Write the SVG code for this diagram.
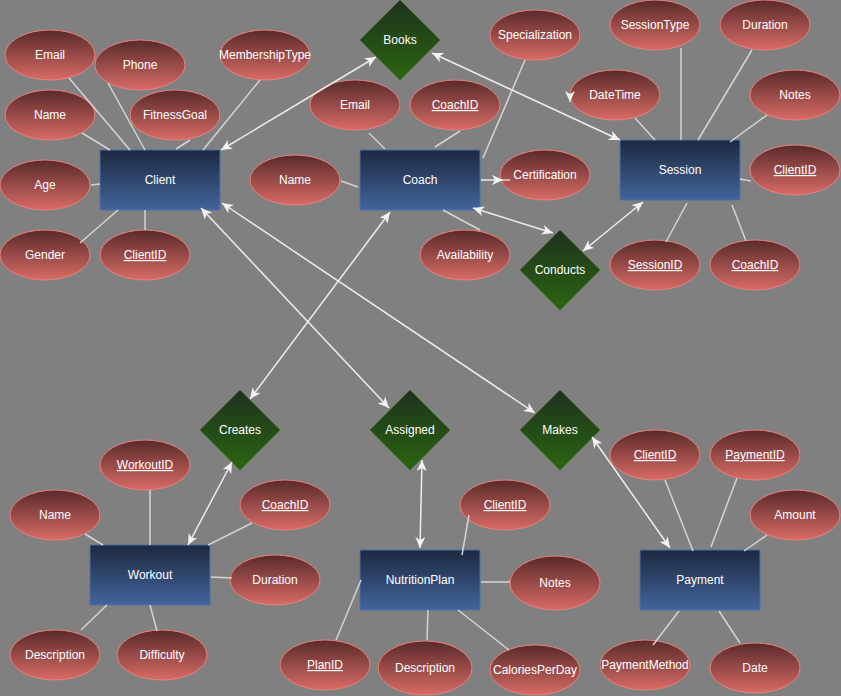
<svg xmlns="http://www.w3.org/2000/svg" width="841" height="696" viewBox="0 0 841 696">
<defs>
<linearGradient id="gA" x1="0" y1="0" x2="0" y2="1"><stop offset="0" stop-color="#592a2a"/><stop offset="1" stop-color="#d86b66"/></linearGradient>
<linearGradient id="gE" x1="0" y1="0" x2="0" y2="1"><stop offset="0" stop-color="#1d2940"/><stop offset="1" stop-color="#42649b"/></linearGradient>
<linearGradient id="gR" x1="0" y1="0" x2="0" y2="1"><stop offset="0" stop-color="#1f311f"/><stop offset="1" stop-color="#2a650f"/></linearGradient>
<marker id="arr" markerUnits="userSpaceOnUse" markerWidth="12" markerHeight="10" refX="11" refY="5" orient="auto-start-reverse" viewBox="0 0 12 10"><path d="M0,0 L11,5 L0,10 L3,5 z" fill="#f2f2f2"/></marker>
<style>
.attr ellipse{fill:url(#gA);stroke:#e8817a;stroke-width:1}
.ent rect{fill:url(#gE);stroke:#4a70aa;stroke-width:1}
.rel polygon{fill:url(#gR);stroke:#3c6a22;stroke-width:1}
text{font-family:"Liberation Sans",Arial,sans-serif;font-size:12px;fill:#ffffff;text-anchor:middle}
.key{text-decoration:underline}
.lnk line,.lnk path{stroke:#d4d4d4;stroke-width:1.5;fill:none}
.lnk .rel{stroke:#ededed;marker-start:url(#arr);marker-end:url(#arr)}
.lnk .one{stroke:#ededed;marker-end:url(#arr)}
</style>
</defs>
<rect width="841" height="696" fill="#808080"/>

<g id="Client" class="ent"><rect x="100" y="150" width="120" height="60"/><text x="160" y="184">Client</text></g>
<g id="Coach" class="ent"><rect x="360" y="150" width="120" height="60"/><text x="420" y="184">Coach</text></g>
<g id="Session" class="ent"><rect x="620" y="140" width="120" height="60"/><text x="680" y="174">Session</text></g>
<g id="Workout" class="ent"><rect x="90" y="545" width="120" height="60"/><text x="150" y="579">Workout</text></g>
<g id="NutritionPlan" class="ent"><rect x="360" y="550" width="120" height="60"/><text x="420" y="584">NutritionPlan</text></g>
<g id="Payment" class="ent"><rect x="640" y="550" width="120" height="60"/><text x="700" y="584">Payment</text></g>

<g id="Books" class="rel"><polygon points="400,0 440,40 400,80 360,40"/><text x="400" y="44">Books</text></g>
<g id="Conducts" class="rel"><polygon points="560,230 600,270 560,310 520,270"/><text x="560" y="274">Conducts</text></g>
<g id="Creates" class="rel"><polygon points="240,390 280,430 240,470 200,430"/><text x="240" y="434">Creates</text></g>
<g id="Assigned" class="rel"><polygon points="410,390 450,430 410,470 370,430"/><text x="410" y="434">Assigned</text></g>
<g id="Makes" class="rel"><polygon points="560,390 600,430 560,470 520,430"/><text x="560" y="434">Makes</text></g>

<g id="Client_Email" class="attr"><ellipse cx="50" cy="55" rx="45" ry="25"/><text x="50" y="59">Email</text></g>
<g id="Client_Phone" class="attr"><ellipse cx="140" cy="65" rx="45" ry="25"/><text x="140" y="69">Phone</text></g>
<g id="Client_MembershipType" class="attr"><ellipse cx="265" cy="55" rx="45" ry="25"/><text x="265" y="59">MembershipType</text></g>
<g id="Client_Name" class="attr"><ellipse cx="50" cy="115" rx="45" ry="25"/><text x="50" y="119">Name</text></g>
<g id="Client_FitnessGoal" class="attr"><ellipse cx="175" cy="115" rx="45" ry="25"/><text x="175" y="119">FitnessGoal</text></g>
<g id="Client_Age" class="attr"><ellipse cx="45" cy="185" rx="45" ry="25"/><text x="45" y="189">Age</text></g>
<g id="Client_Gender" class="attr"><ellipse cx="45" cy="255" rx="45" ry="25"/><text x="45" y="259">Gender</text></g>
<g id="Client_ClientID" class="attr"><ellipse cx="145" cy="255" rx="45" ry="25"/><text class="key" x="145" y="259">ClientID</text></g>

<g id="Coach_Email" class="attr"><ellipse cx="355" cy="105" rx="45" ry="25"/><text x="355" y="109">Email</text></g>
<g id="Coach_CoachID" class="attr"><ellipse cx="455" cy="105" rx="45" ry="25"/><text class="key" x="455" y="109">CoachID</text></g>
<g id="Coach_Specialization" class="attr"><ellipse cx="535" cy="35" rx="45" ry="25"/><text x="535" y="39">Specialization</text></g>
<g id="Coach_Name" class="attr"><ellipse cx="295" cy="180" rx="45" ry="25"/><text x="295" y="184">Name</text></g>
<g id="Coach_Certification" class="attr"><ellipse cx="545" cy="175" rx="45" ry="25"/><text x="545" y="179">Certification</text></g>
<g id="Coach_Availability" class="attr"><ellipse cx="465" cy="255" rx="45" ry="25"/><text x="465" y="259">Availability</text></g>

<g id="Session_SessionType" class="attr"><ellipse cx="655" cy="25" rx="45" ry="25"/><text x="655" y="29">SessionType</text></g>
<g id="Session_Duration" class="attr"><ellipse cx="765" cy="25" rx="45" ry="25"/><text x="765" y="29">Duration</text></g>
<g id="Session_DateTime" class="attr"><ellipse cx="615" cy="95" rx="45" ry="25"/><text x="615" y="99">DateTime</text></g>
<g id="Session_Notes" class="attr"><ellipse cx="795" cy="95" rx="45" ry="25"/><text x="795" y="99">Notes</text></g>
<g id="Session_ClientID" class="attr"><ellipse cx="795" cy="170" rx="45" ry="25"/><text class="key" x="795" y="174">ClientID</text></g>
<g id="Session_SessionID" class="attr"><ellipse cx="655" cy="265" rx="45" ry="25"/><text class="key" x="655" y="269">SessionID</text></g>
<g id="Session_CoachID" class="attr"><ellipse cx="755" cy="265" rx="45" ry="25"/><text class="key" x="755" y="269">CoachID</text></g>

<g id="Workout_WorkoutID" class="attr"><ellipse cx="145" cy="465" rx="45" ry="25"/><text class="key" x="145" y="469">WorkoutID</text></g>
<g id="Workout_Name" class="attr"><ellipse cx="55" cy="515" rx="45" ry="25"/><text x="55" y="519">Name</text></g>
<g id="Workout_CoachID" class="attr"><ellipse cx="285" cy="505" rx="45" ry="25"/><text class="key" x="285" y="509">CoachID</text></g>
<g id="Workout_Duration" class="attr"><ellipse cx="275" cy="580" rx="45" ry="25"/><text x="275" y="584">Duration</text></g>
<g id="Workout_Description" class="attr"><ellipse cx="55" cy="655" rx="45" ry="25"/><text x="55" y="659">Description</text></g>
<g id="Workout_Difficulty" class="attr"><ellipse cx="162" cy="655" rx="45" ry="25"/><text x="162" y="659">Difficulty</text></g>

<g id="NutritionPlan_ClientID" class="attr"><ellipse cx="505" cy="505" rx="45" ry="25"/><text class="key" x="505" y="509">ClientID</text></g>
<g id="NutritionPlan_Notes" class="attr"><ellipse cx="555" cy="583" rx="45" ry="27"/><text x="555" y="587">Notes</text></g>
<g id="NutritionPlan_PlanID" class="attr"><ellipse cx="325" cy="665" rx="45" ry="25"/><text class="key" x="325" y="669">PlanID</text></g>
<g id="NutritionPlan_Description" class="attr"><ellipse cx="425" cy="668" rx="47" ry="27"/><text x="425" y="672">Description</text></g>
<g id="NutritionPlan_CaloriesPerDay" class="attr"><ellipse cx="535" cy="670" rx="45" ry="25"/><text x="535" y="674">CaloriesPerDay</text></g>

<g id="Payment_ClientID" class="attr"><ellipse cx="655" cy="455" rx="45" ry="25"/><text class="key" x="655" y="459">ClientID</text></g>
<g id="Payment_PaymentID" class="attr"><ellipse cx="755" cy="455" rx="45" ry="25"/><text class="key" x="755" y="459">PaymentID</text></g>
<g id="Payment_Amount" class="attr"><ellipse cx="795" cy="515" rx="45" ry="25"/><text x="795" y="519">Amount</text></g>
<g id="Payment_PaymentMethod" class="attr"><ellipse cx="645" cy="665" rx="45" ry="25"/><text x="645" y="669">PaymentMethod</text></g>
<g id="Payment_Date" class="attr"><ellipse cx="755" cy="668" rx="45" ry="25"/><text x="755" y="672">Date</text></g>

<g id="connectors" class="lnk">
<!-- Client attributes -->
<line x1="69" y1="78" x2="130" y2="150"/>
<line x1="108" y1="83" x2="145" y2="150"/>
<line x1="260" y1="80" x2="203" y2="150"/>
<line x1="82" y1="133" x2="110" y2="150"/>
<line x1="190" y1="140" x2="176" y2="149"/>
<line x1="91" y1="185" x2="100" y2="184"/>
<line x1="118" y1="210" x2="80" y2="243"/>
<line x1="145" y1="210" x2="145" y2="230"/>
<!-- Coach attributes -->
<line x1="369" y1="133" x2="385" y2="149"/>
<line x1="460" y1="131" x2="435" y2="147"/>
<line x1="525" y1="60" x2="483" y2="158"/>
<line x1="341" y1="181" x2="358" y2="187"/>
<line x1="503" y1="180" x2="510" y2="180"/>
<path class="one" d="M481,180 L503,180"/>
<line x1="443" y1="210" x2="480" y2="230"/>
<!-- Session attributes -->
<line x1="635" y1="118" x2="655" y2="140"/>
<line x1="681" y1="48" x2="681" y2="140"/>
<line x1="752" y1="50" x2="698" y2="140"/>
<line x1="767" y1="115" x2="730" y2="142"/>
<line x1="740" y1="179" x2="751" y2="181"/>
<line x1="687" y1="203" x2="666" y2="242"/>
<line x1="732" y1="205" x2="746" y2="241"/>
<path class="one" d="M570,101 L570,102"/>
<!-- Workout attributes -->
<line x1="150" y1="490" x2="150" y2="545"/>
<line x1="85" y1="534" x2="103" y2="545"/>
<line x1="107" y1="605" x2="81" y2="630"/>
<line x1="150" y1="605" x2="157" y2="631"/>
<line x1="211" y1="577" x2="232" y2="578"/>
<line x1="208" y1="545" x2="252" y2="523"/>
<!-- NutritionPlan attributes -->
<line x1="469" y1="515" x2="462" y2="555"/>
<line x1="361" y1="580" x2="336" y2="640"/>
<line x1="428" y1="610" x2="427" y2="640"/>
<line x1="458" y1="610" x2="509" y2="650"/>
<line x1="481" y1="582" x2="510" y2="582"/>
<!-- Payment attributes -->
<line x1="665" y1="480" x2="693" y2="551"/>
<line x1="737" y1="478" x2="711" y2="547"/>
<line x1="767" y1="535" x2="744" y2="551"/>
<line x1="679" y1="611" x2="653" y2="645"/>
<line x1="719" y1="611" x2="740" y2="643"/>
<!-- Relationships -->
<path class="rel" d="M221,150 L376,57"/>
<path class="rel" d="M432,53 L620,140"/>
<path class="rel" d="M473,208 L553,233"/>
<path class="rel" d="M643,202 L583,251"/>
<path class="rel" d="M390,212 L250,399"/>
<path class="rel" d="M201,208 L389,408"/>
<path class="rel" d="M222,203 L535,413"/>
<path class="rel" d="M188,545 L232,462"/>
<path class="rel" d="M422,460 L420,548"/>
<path class="rel" d="M592,437 L670,548"/>
</g>
</svg>
